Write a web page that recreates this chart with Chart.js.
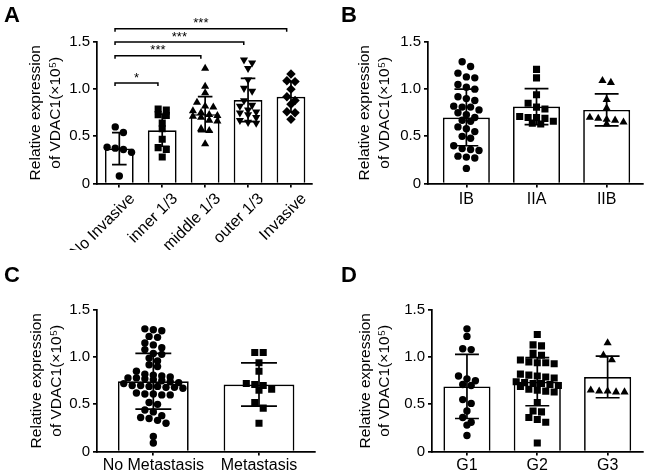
<!DOCTYPE html>
<html>
<head>
<meta charset="utf-8">
<script src="https://cdn.jsdelivr.net/npm/chart.js@4.4.1/dist/chart.umd.min.js"></script>
<style>
  body { margin: 0; background: #fff; }
  #wrap { position: relative; width: 648px; height: 472px; overflow: hidden; font-family: 'Liberation Sans', Arial, sans-serif; }
  canvas { position: absolute; }
  .tag { position: absolute; font-weight: bold; font-size: 22px; line-height: 1; color: #000; }
</style>
</head>
<body>
<div id="wrap">
  <canvas id="cA" width="324" height="250" style="left:0;top:0"></canvas>
  <canvas id="cB" width="324" height="236" style="left:324px;top:0"></canvas>
  <canvas id="cC" width="324" height="236" style="left:0;top:236px"></canvas>
  <canvas id="cD" width="324" height="236" style="left:324px;top:236px"></canvas>
  <div class="tag" style="left:4px;top:4px">A</div>
  <div class="tag" style="left:341px;top:4px">B</div>
  <div class="tag" style="left:4px;top:264px">C</div>
  <div class="tag" style="left:341px;top:264px">D</div>
</div>
<script>
// y axis
const yTicks = [0, 0.5, 1.0, 1.5];
const yTitle = ['Relative expression', 'of VDAC1(×10⁵)'];

// A: invasion depth
const aLabels = ['No Invasive', 'inner 1/3', 'middle 1/3', 'outer 1/3', 'Invasive'];
const aMeans = [0.37, 0.565, 0.735, 0.885, 0.92];
const aSD = [0.17, 0.17, 0.185, 0.23, 0.16];
const aPoints = [
  [0.60, 0.54, 0.385, 0.375, 0.36, 0.33, 0.08],
  [0.79, 0.78, 0.73, 0.72, 0.64, 0.58, 0.47, 0.38, 0.36, 0.28],
  [1.22, 1.03, 0.96, 0.86, 0.82, 0.81, 0.77, 0.75, 0.73, 0.72, 0.71, 0.70, 0.67, 0.66, 0.58, 0.56, 0.42],
  [1.31, 1.28, 1.22, 1.10, 1.01, 0.98, 0.88, 0.83, 0.82, 0.78, 0.76, 0.75, 0.73, 0.70, 0.67, 0.65, 0.64],
  [1.16, 1.09, 1.08, 1.00, 0.92, 0.88, 0.84, 0.76, 0.75, 0.68]
];
const aMarkers = ['circle', 'square', 'up', 'down', 'diamond'];
const aBracketFrom = [0, 0, 0, 0];
const aBracketTo = [4, 3, 2, 1];
const aBracketY = [1.64, 1.50, 1.355, 1.065];
const aBracketText = ['***', '***', '***', '*'];

// B: stage
const bLabels = ['IB', 'IIA', 'IIB'];
const bMeans = [0.70, 0.815, 0.78];
const bSD = [0.30, 0.19, 0.17];
const bPoints = [
  [1.29, 1.24, 1.17, 1.13, 1.12, 1.05, 1.02, 1.00, 0.92, 0.90, 0.88, 0.82, 0.81, 0.81, 0.78, 0.75, 0.73,
   0.70, 0.67, 0.66, 0.60, 0.58, 0.55, 0.50, 0.48, 0.40, 0.37, 0.36, 0.35, 0.29, 0.28, 0.27, 0.16],
  [1.21, 1.12, 0.94, 0.85, 0.81, 0.79, 0.71, 0.70, 0.70, 0.69, 0.66, 0.64, 0.63],
  [1.09, 1.07, 0.89, 0.80, 0.70, 0.69, 0.68, 0.67, 0.65, 0.63]
];
const bMarkers = ['circle', 'square', 'up'];

// C: metastasis
const cLabels = ['No Metastasis', 'Metastasis'];
const cMeans = [0.745, 0.71];
const cSD = [0.295, 0.23];
const cPoints = [
  [1.30, 1.29, 1.28, 1.22, 1.21, 1.15, 1.13, 1.10, 1.08, 1.04, 1.03, 0.99, 0.96, 0.92, 0.90, 0.85, 0.82,
   0.81, 0.80, 0.79, 0.78, 0.78, 0.77, 0.76, 0.75, 0.74, 0.73, 0.72, 0.70, 0.70, 0.69, 0.69, 0.68, 0.68,
   0.67, 0.62, 0.61, 0.61, 0.60, 0.60, 0.52, 0.50, 0.44, 0.42, 0.38, 0.36, 0.35, 0.33, 0.30, 0.16, 0.09],
  [1.05, 1.05, 0.94, 0.85, 0.72, 0.71, 0.70, 0.66, 0.65, 0.52, 0.46, 0.30]
];
const cMarkers = ['circle', 'square'];

// D: grade
const dLabels = ['G1', 'G2', 'G3'];
const dMeans = [0.69, 0.74, 0.79];
const dSD = [0.34, 0.255, 0.22];
const dPoints = [
  [1.30, 1.22, 1.09, 1.08, 0.80, 0.77, 0.75, 0.71, 0.70, 0.55, 0.51, 0.43, 0.36, 0.31, 0.28, 0.17],
  [1.24, 1.13, 1.12, 1.04, 1.02, 0.97, 0.95, 0.94, 0.94, 0.93, 0.82, 0.81, 0.80, 0.79, 0.78, 0.74, 0.73,
   0.72, 0.72, 0.71, 0.70, 0.69, 0.66, 0.65, 0.64, 0.63, 0.52, 0.43, 0.42, 0.36, 0.34, 0.31, 0.09],
  [1.15, 1.02, 0.97, 0.65, 0.64, 0.64, 0.63, 0.63]
];
const dMarkers = ['circle', 'square', 'up'];

Chart.defaults.font.family = "'Liberation Sans', Arial, sans-serif";
Chart.defaults.color = '#000';

const MARKERS = {
  circle: { pointStyle: 'circle', r: 3.7, rot: 0 },
  square: { pointStyle: 'rect', r: 5, rot: 0 },
  up: { pointStyle: 'triangle', r: 4.7, rot: 0 },
  down: { pointStyle: 'triangle', r: 4.7, rot: 180 },
  diamond: { pointStyle: 'rectRot', r: 4.7, rot: 0 }
};

// simple beeswarm: points with close values share a row and spread sideways
function swarm(values, spread, tol, maxRow) {
  const order = values.map((v, i) => i).sort((a, b) => values[b] - values[a]);
  const offs = new Array(values.length).fill(0);
  let row = [];
  const flush = () => {
    row.forEach((k, j) => { offs[k] = (j - (row.length - 1) / 2) * spread; });
    row = [];
  };
  order.forEach((k) => {
    if (row.length && (values[row[0]] - values[k] > tol || row.length >= maxRow)) flush();
    row.push(k);
  });
  flush();
  return offs;
}

function drawPanel(id, p) {
  const datasets = [{
    type: 'bar',
    data: p.means.map((m, i) => ({ x: i, y: m })),
    backgroundColor: '#fff',
    borderColor: '#000',
    borderWidth: 1.7,
    barPercentage: 0.67,
    categoryPercentage: 1,
    order: 2
  }];
  p.points.forEach((vals, i) => {
    const m = MARKERS[p.markers[i]];
    const offs = swarm(vals, p.spread, 0.06, p.maxRow);
    datasets.push({
      type: 'scatter',
      data: vals.map((v, k) => ({ x: i + offs[k], y: v })),
      pointStyle: m.pointStyle,
      pointRotation: m.rot,
      pointRadius: m.r,
      backgroundColor: '#000',
      borderColor: '#000',
      borderWidth: 0,
      order: 1
    });
  });

  const marks = {
    id: 'marks',
    afterDatasetsDraw(chart) {
      const { ctx, scales: { x, y } } = chart;
      ctx.save();
      ctx.strokeStyle = '#000';
      ctx.lineWidth = 1.7;
      p.means.forEach((m, i) => {
        const cx = x.getPixelForValue(i);
        const hw = x.getPixelForValue(i + 0.17) - cx;
        const top = y.getPixelForValue(m + p.sd[i]);
        const bot = y.getPixelForValue(m - p.sd[i]);
        ctx.beginPath();
        ctx.moveTo(cx, top); ctx.lineTo(cx, bot);
        ctx.moveTo(cx - hw, top); ctx.lineTo(cx + hw, top);
        ctx.moveTo(cx - hw, bot); ctx.lineTo(cx + hw, bot);
        ctx.stroke();
      });
      if (p.bracketTo) {
        ctx.lineWidth = 1.5;
        ctx.font = "13px 'Liberation Sans', Arial, sans-serif";
        ctx.fillStyle = '#000';
        ctx.textAlign = 'center';
        ctx.textBaseline = 'alphabetic';
        p.bracketTo.forEach((to, i) => {
          const x1 = x.getPixelForValue(p.bracketFrom[i] - 0.1);
          const x2 = x.getPixelForValue(to - 0.1);
          const by = y.getPixelForValue(p.bracketY[i]);
          ctx.beginPath();
          ctx.moveTo(x1, by + 3); ctx.lineTo(x1, by); ctx.lineTo(x2, by); ctx.lineTo(x2, by + 3);
          ctx.stroke();
          ctx.fillText(p.bracketText[i], (x1 + x2) / 2, by - 1.5);
        });
      }
      ctx.restore();
    }
  };

  new Chart(document.getElementById(id), {
    type: 'bar',
    data: { datasets },
    plugins: [marks],
    options: {
      responsive: false,
      devicePixelRatio: 1,
      animation: false,
      layout: { padding: { left: 0, top: p.top, right: p.right, bottom: 0 } },
      plugins: { legend: { display: false }, tooltip: { enabled: false } },
      scales: {
        x: {
          type: 'linear',
          min: p.xMin,
          max: p.xMax,
          offset: false,
          afterBuildTicks: (axis) => { axis.ticks = p.labels.map((_, i) => ({ value: i })); },
          afterFit: (axis) => { axis.height = p.xHeight; },
          border: { display: true, color: '#000', width: 1.7 },
          grid: { display: true, offset: false, drawOnChartArea: false, drawTicks: true, tickLength: 4, color: '#000', lineWidth: 1.7 },
          ticks: {
            autoSkip: false,
            minRotation: p.rot,
            maxRotation: p.rot,
            padding: p.xPad,
            labelOffset: p.labelOffset,
            font: { size: 16 },
            color: '#000',
            callback: (v) => p.labels[v]
          }
        },
        y: {
          min: 0,
          max: 1.5,
          afterBuildTicks: (axis) => { axis.ticks = yTicks.map((v) => ({ value: v })); },
          afterFit: (axis) => { axis.width = p.yWidth; },
          border: { display: true, color: '#000', width: 1.7 },
          grid: { display: true, drawOnChartArea: false, drawTicks: true, tickLength: 4, color: '#000', lineWidth: 1.7 },
          ticks: {
            padding: 3,
            font: { size: 15 },
            color: '#000',
            callback: (v) => (v === 0 ? '0' : v.toFixed(1))
          },
          title: {
            display: true,
            text: yTitle,
            font: { size: 15.5, lineHeight: 1.24 },
            color: '#000',
            padding: { top: p.titlePad, bottom: 0 }
          }
        }
      }
    }
  });
}

drawPanel('cA', {
  labels: aLabels, means: aMeans, sd: aSD, points: aPoints, markers: aMarkers,
  bracketFrom: aBracketFrom, bracketTo: aBracketTo, bracketY: aBracketY, bracketText: aBracketText,
  xMin: -0.52, xMax: 4.49, spread: 0.19, maxRow: 4, rot: 45, xPad: 2, labelOffset: 13,
  top: 42, right: 12, xHeight: 66.5, yWidth: 97, titlePad: 26.5
});
drawPanel('cB', {
  labels: bLabels, means: bMeans, sd: bSD, points: bPoints, markers: bMarkers,
  xMin: -0.547, xMax: 2.518, spread: 0.12, maxRow: 6, rot: 0, xPad: 2, labelOffset: 0,
  top: 42, right: 3, xHeight: 52.5, yWidth: 104, titlePad: 31.5
});
drawPanel('cC', {
  labels: cLabels, means: cMeans, sd: cSD, points: cPoints, markers: cMarkers,
  xMin: -0.533, xMax: 1.53, spread: 0.08, maxRow: 9, rot: 0, xPad: 0, labelOffset: 0,
  top: 74, right: 9, xHeight: 20.5, yWidth: 97, titlePad: 27.5
});
drawPanel('cD', {
  labels: dLabels, means: dMeans, sd: dSD, points: dPoints, markers: dMarkers,
  xMin: -0.497, xMax: 2.503, spread: 0.12, maxRow: 6, rot: 0, xPad: 0, labelOffset: 0,
  top: 74, right: 3, xHeight: 20.5, yWidth: 108, titlePad: 32
});
</script>
</body>
</html>
